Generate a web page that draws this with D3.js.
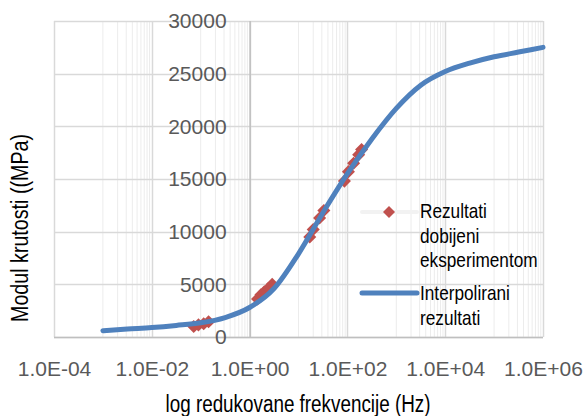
<!DOCTYPE html>
<html>
<head>
<meta charset="utf-8">
<script src="https://cdn.jsdelivr.net/npm/d3@7"></script>
<style>
  body { margin: 0; background: #fff; }
  svg { display: block; }
</style>
</head>
<body>
<div class="container"></div>
<script>
// interpolated curve (frequency in Hz, modulus in MPa)
const curveFreq = [0.001, 0.00316, 0.01, 0.0316, 0.1, 0.316, 1, 3.16, 10, 31.6, 100, 316, 1000, 3162, 10000, 31623, 100000, 316228, 1000000]
const curveModulus = [600, 760, 900, 1100, 1350, 1850, 2800, 4600, 7900, 11800, 15500, 18800, 21700, 23900, 25200, 26000, 26600, 27050, 27500]

// experimental results
const expFreq = [0.072, 0.09, 0.115, 0.145, 1.45, 1.7, 2.0, 2.4, 2.9, 17, 20, 27, 33, 87, 105, 134, 170, 195]
const expModulus = [1000, 1150, 1250, 1450, 3600, 4000, 4300, 4600, 5000, 9500, 10200, 11300, 12000, 14800, 15700, 16500, 17300, 17800]

const xTicks = [1e-4, 1e-2, 1e0, 1e2, 1e4, 1e6]
const yTicks = [0, 5000, 10000, 15000, 20000, 25000, 30000]

const legendLabels = [['Rezultati', 'dobijeni', 'eksperimentom'], ['Interpolirani', 'rezultati']]

const width = 584
const height = 416
const plotLeft = 54, plotRight = 543, plotTop = 21, plotBottom = 337

const svg = d3.select('.container')
  .append('svg')
  .attr('width', width)
  .attr('height', height)

const xScale = d3.scaleLog()
  .domain([1e-4, 1e6])
  .range([plotLeft, plotRight])

const yScale = d3.scaleLinear()
  .domain([0, 30000])
  .range([plotBottom, plotTop])

// minor vertical gridlines (log base 100: 1..9 x the odd decade)
const minorX = []
xTicks.slice(0, -1).forEach((m) => {
  for (let k = 1; k <= 9; k++) minorX.push(m * 10 * k)
})

svg.append('g')
  .selectAll('line')
  .data(minorX)
  .enter()
  .append('line')
  .attr('x1', (d) => xScale(d))
  .attr('x2', (d) => xScale(d))
  .attr('y1', plotTop)
  .attr('y2', plotBottom)
  .attr('stroke', '#ececec')
  .attr('stroke-width', 1)

svg.append('g')
  .selectAll('line')
  .data(xTicks)
  .enter()
  .append('line')
  .attr('x1', (d) => Math.round(xScale(d)) + 0.5)
  .attr('x2', (d) => Math.round(xScale(d)) + 0.5)
  .attr('y1', plotTop)
  .attr('y2', plotBottom)
  .attr('stroke', '#d9d9d9')
  .attr('stroke-width', 1.5)

svg.append('g')
  .selectAll('line')
  .data(yTicks)
  .enter()
  .append('line')
  .attr('x1', plotLeft)
  .attr('x2', plotRight)
  .attr('y1', (d) => Math.round(yScale(d)) + 0.5)
  .attr('y2', (d) => Math.round(yScale(d)) + 0.5)
  .attr('stroke', '#d9d9d9')
  .attr('stroke-width', 1.5)

// axis lines
svg.append('line')
  .attr('x1', plotLeft).attr('x2', plotRight)
  .attr('y1', yScale(0) + 0.5).attr('y2', yScale(0) + 0.5)
  .attr('stroke', '#bfbfbf').attr('stroke-width', 1.5)

svg.append('line')
  .attr('x1', xScale(1) + 0.5).attr('x2', xScale(1) + 0.5)
  .attr('y1', plotTop).attr('y2', plotBottom)
  .attr('stroke', '#bfbfbf').attr('stroke-width', 1.5)

const formatExp = (d) => {
  const e = Math.round(Math.log10(d))
  return '1.0E' + (e < 0 ? '-' : '+') + String(Math.abs(e)).padStart(2, '0')
}

const xAxis = svg.append('g')
  .attr('transform', `translate(0, ${plotBottom})`)
  .call(d3.axisBottom(xScale).tickValues(xTicks).tickFormat(formatExp).tickSize(0).tickPadding(24))
xAxis.select('.domain').remove()
xAxis.selectAll('text')
  .attr('font-family', '"Liberation Sans", Arial, sans-serif')
  .attr('font-size', '21px')
  .attr('fill', '#595959')

const yAxis = svg.append('g')
  .attr('transform', `translate(${xScale(1)}, 0)`)
  .call(d3.axisLeft(yScale).tickValues(yTicks).tickFormat(d3.format('d')).tickSize(0).tickPadding(23))
yAxis.select('.domain').remove()
yAxis.selectAll('text')
  .attr('font-family', '"Liberation Sans", Arial, sans-serif')
  .attr('font-size', '21px')
  .attr('fill', '#595959')

// experimental points
const diamond = d3.symbol().type(d3.symbolSquare).size(85)
const expData = expFreq.map((f, i) => ({ f: f, m: expModulus[i] }))

svg.append('g')
  .selectAll('path')
  .data(expData)
  .enter()
  .append('path')
  .attr('d', diamond)
  .attr('transform', (d) => `translate(${xScale(d.f)}, ${yScale(d.m)}) rotate(45)`)
  .attr('fill', '#c0504d')

// interpolated curve
const curveData = curveFreq.map((f, i) => ({ f: f, m: curveModulus[i] }))
const line = d3.line()
  .x((d) => xScale(d.f))
  .y((d) => yScale(d.m))
  .curve(d3.curveMonotoneX)

svg.append('path')
  .datum(curveData)
  .attr('d', line)
  .attr('fill', 'none')
  .attr('stroke', '#4f81bd')
  .attr('stroke-width', 5)
  .attr('stroke-linecap', 'round')

// axis titles (narrow look: Liberation Sans squeezed horizontally)
const titleFont = '"Liberation Sans", Arial, sans-serif'
const squeeze = 0.82

svg.append('text')
  .text('log redukovane frekvencije (Hz)')
  .attr('transform', `translate(298, 412) scale(${squeeze}, 1)`)
  .attr('text-anchor', 'middle')
  .attr('font-family', titleFont)
  .attr('font-size', '23px')
  .attr('fill', '#000')

svg.append('text')
  .text('Modul krutosti ((MPa)')
  .attr('transform', `translate(28, 228) rotate(-90) scale(${squeeze}, 1)`)
  .attr('text-anchor', 'middle')
  .attr('font-family', titleFont)
  .attr('font-size', '24px')
  .attr('fill', '#000')

// legend
const legend = svg.append('g')

legend.append('line')
  .attr('x1', 362).attr('x2', 417)
  .attr('y1', 212).attr('y2', 212)
  .attr('stroke', '#f2f2f2').attr('stroke-width', 4)
  .attr('stroke-linecap', 'round')

legend.append('path')
  .attr('d', d3.symbol().type(d3.symbolSquare).size(72))
  .attr('transform', 'translate(389, 212) rotate(45)')
  .attr('fill', '#c0504d')

legend.append('line')
  .attr('x1', 362).attr('x2', 417)
  .attr('y1', 293).attr('y2', 293)
  .attr('stroke', '#4f81bd').attr('stroke-width', 5)
  .attr('stroke-linecap', 'round')

const legendY = [218, 300]
legendLabels.forEach((lines, i) => {
  legend.append('g')
    .selectAll('text')
    .data(lines)
    .enter()
    .append('text')
    .text((d) => d)
    .attr('transform', (d, j) => `translate(420, ${legendY[i] + j * 24.5}) scale(${squeeze}, 1)`)
    .attr('font-family', titleFont)
    .attr('font-size', '21px')
    .attr('fill', '#000')
})
</script>
</body>
</html>
